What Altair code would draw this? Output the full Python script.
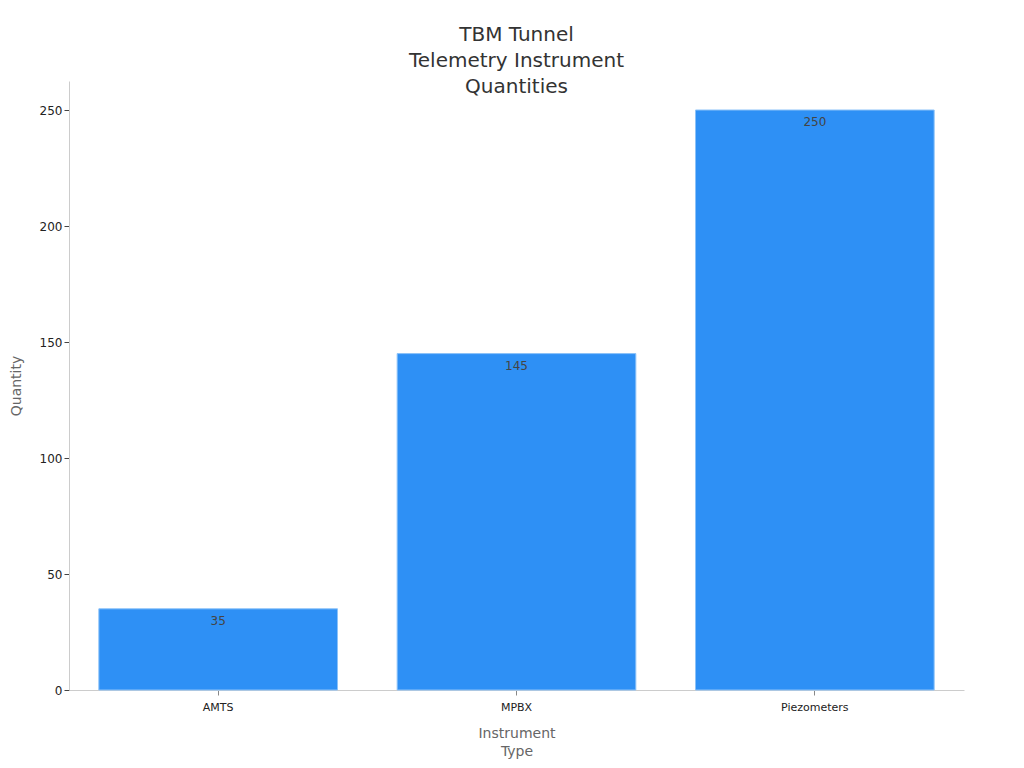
import altair as alt
import pandas as pd

categories = ["AMTS", "MPBX", "Piezometers"]
quantities = [35, 145, 250]

df = pd.DataFrame({"Instrument Type": categories, "Quantity": quantities})

FONT = "DejaVu Sans"

x = alt.X("Instrument Type:N", sort=categories,
          scale=alt.Scale(paddingInner=0.2, paddingOuter=0.1),
          axis=alt.Axis(title=["Instrument", "Type"], labelAngle=0, labelFontSize=11,
                        labelColor="#222222", titleColor="#666666", titleFontSize=14,
                        titleLineHeight=18,
                        titleFontWeight="normal", domainColor="#cccccc", tickColor="#888888",
                        titlePadding=14, labelPadding=6))
y = alt.Y("Quantity:Q", scale=alt.Scale(domain=[0, 262.5], nice=False),
          axis=alt.Axis(title="Quantity", values=[0, 50, 100, 150, 200, 250], grid=False,
                        labelFontSize=12, labelColor="#222222", titleColor="#666666",
                        titleFontSize=14, titleFontWeight="normal", domainColor="#cccccc",
                        tickColor="#444444", titlePadding=16))

bars = alt.Chart(df).mark_bar(color="#2E90F5", stroke="#8CC2F8", strokeWidth=1).encode(x=x, y=y)
labels = alt.Chart(df).mark_text(baseline="top", dy=7, fontSize=12, color="#444444", font=FONT).encode(
    x=alt.X("Instrument Type:N", sort=categories), y="Quantity:Q", text="Quantity:Q")

chart = (bars + labels).properties(
    width=895, height=609,
    title=alt.Title(["TBM Tunnel", "Telemetry Instrument", "Quantities"], fontSize=20,
                    fontWeight="normal", color="#333333", lineHeight=26, offset=-16, font=FONT),
    autosize=alt.AutoSizeParams(type="none"),
    padding={"left": 61, "top": 73, "right": 52, "bottom": 78},
).configure(font=FONT).configure_view(stroke=None).configure_axis(labelFont=FONT, titleFont=FONT)

chart.save("out.html", embed_options={"renderer": "svg", "actions": False})
